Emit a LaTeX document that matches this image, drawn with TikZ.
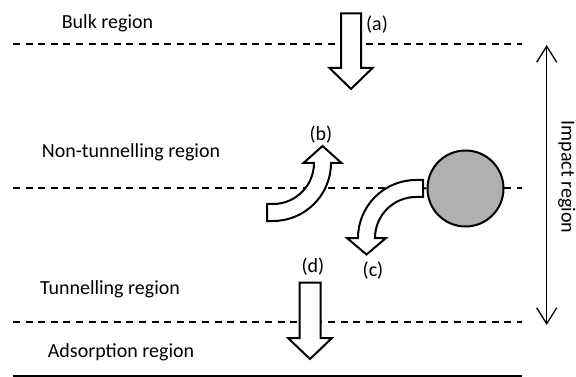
\documentclass[tikz,border=0pt]{standalone}
\usepackage{fontspec}
\setmainfont{Carlito}
\usetikzlibrary{arrows.meta}
\tikzset{
  regionline/.style={line width=1.8pt, dash pattern=on 7pt off 5.6pt},
  blockarrow/.style={draw=black, fill=white, line width=2pt, line join=miter},
  lbl/.style={inner sep=0pt, font=\fontsize{20}{24}\selectfont},
  particle/.style={draw=black, fill=black!31, line width=2pt},
}
\begin{document}
\begin{tikzpicture}[x=1pt,y=-1pt]
\useasboundingbox (0,0) rectangle (576,377);
% region boundaries
\draw[regionline] (13,44) -- (522,44);
\draw[regionline] (13,188) -- (522,188);
\draw[regionline] (13,322) -- (522,322);
\draw[line width=2.5pt] (13,375.8) -- (522,375.8);
% region texts
\node[lbl, anchor=base] (bulk) at (107.5,28.3) {Bulk region};
\node[lbl, anchor=base] (nontun) at (131,158) {Non-tunnelling region};
\node[lbl, anchor=base] (tun) at (110,294) {Tunnelling region};
\node[lbl, anchor=base] (ads) at (121,357) {Adsorption region};
\node[lbl, anchor=base, rotate=-90] (impact) at (561.5,177) {Impact region};
% impact region double arrow
\coordinate (imptop) at (546.7,45);
\coordinate (impbot) at (546.7,325);
\draw[line width=1.3pt, {Straight Barb[length=16pt,width=20pt]}-{Straight Barb[length=16pt,width=20pt]}] (imptop) -- (impbot);
% arrow (a)
\draw[blockarrow] (341,13.3) -- (361,13.3) -- (361,68) -- (372.5,68) -- (351,89) -- (329.5,68) -- (341,68) -- cycle;
\node[lbl] (la) at (377,25) {(a)};
% arrow (d)
\draw[blockarrow] (299.5,282.7) -- (320.5,282.7) -- (320.5,338) -- (332,338) -- (310,359) -- (288,338) -- (299.5,338) -- cycle;
\node[lbl] (ld) at (313,267) {(d)};
% arrow (b): bent upwards
\draw[blockarrow] (267,204) -- (273,204)
  .. controls (295.6,204) and (314,185.6) .. (314,163)
  -- (303.5,163) -- (322.5,146) -- (341.5,163) -- (331,163)
  .. controls (331,195) and (305,221) .. (273,221)
  -- (267,221) -- cycle;
\node[lbl] (lb) at (321,135) {(b)};
% particle
\node[particle, circle, minimum size=76pt, inner sep=0pt] (part) at (465.5,188.5) {};
% arrow (c): bent downwards, coming off the particle
\coordinate (ctail) at (423,188);
\draw[line width=1.8pt] (ctail) -- (part.west);
\draw[blockarrow] (423,197) -- (416,197)
  .. controls (393.4,197) and (375,215.4) .. (375,238)
  -- (386,238) -- (366.5,254.5) -- (347,238) -- (358,238)
  .. controls (358,206) and (384,180) .. (416,180)
  -- (423,180) -- cycle;
\node[lbl] (lc) at (373,271) {(c)};
\end{tikzpicture}
\end{document}
